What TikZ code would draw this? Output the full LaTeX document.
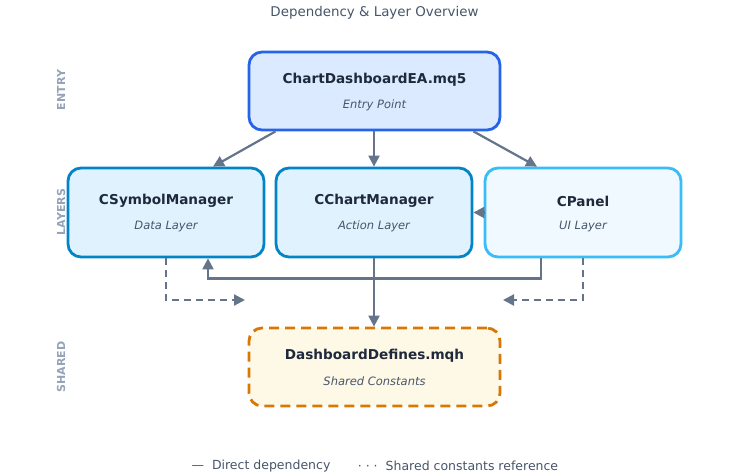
\documentclass[tikz,border=0pt]{standalone}
\usepackage{fontspec}
\setmainfont{DejaVu Sans}
\usetikzlibrary{arrows.meta, calc}

\definecolor{entryline}{HTML}{2563EB}
\definecolor{entryfill}{HTML}{DBEAFE}
\definecolor{layerline}{HTML}{0284C7}
\definecolor{layerfill}{HTML}{E0F2FE}
\definecolor{panelline}{HTML}{38BDF8}
\definecolor{panelfill}{HTML}{F0F9FF}
\definecolor{sharedline}{HTML}{D97706}
\definecolor{sharedfill}{HTML}{FEF9E7}
\definecolor{wirecol}{HTML}{64748B}
\definecolor{sidegray}{HTML}{94A3B8}
\definecolor{nametext}{HTML}{1E293B}
\definecolor{subtext}{HTML}{475569}

\begin{document}
\begin{tikzpicture}[x=1pt, y=-1pt, >={Triangle[length=11pt, width=11pt]},
  box/.style={draw, rounded corners=13pt, line width=2.8pt, align=center, inner sep=0pt},
  entrybox/.style={box, draw=entryline, fill=entryfill, minimum width=251pt, minimum height=78pt},
  layerbox/.style={box, draw=layerline, fill=layerfill, minimum width=196pt, minimum height=89pt},
  panelbox/.style={box, draw=panelline, fill=panelfill, minimum width=196pt, minimum height=89pt},
  sharedbox/.style={box, draw=sharedline, fill=sharedfill, dash pattern=on 10pt off 6pt,
    minimum width=251pt, minimum height=78pt},
  nametxt/.style={font=\fontsize{13.6}{16}\selectfont\bfseries, text=nametext},
  subtxt/.style={font=\fontsize{11.5}{13}\selectfont\itshape, text=subtext},
  sidelabel/.style={rotate=90, font=\fontsize{11}{13}\selectfont\bfseries, text=sidegray},
  plaintxt/.style={font=\fontsize{12.5}{14}\selectfont, text=subtext},
  link/.style={draw=wirecol, line width=2.2pt},
  dlink/.style={link, dash pattern=on 7pt off 5pt}]

\useasboundingbox (0,0) rectangle (749,475);

% =================================================================================
% title and side labels
% =================================================================================
\node[plaintxt, font=\fontsize{13.4}{15}\selectfont] (title) at (374.5,13) {Dependency \& Layer Overview};
\node[sidelabel] (sentry)  at (61,90)  {ENTRY};
\node[sidelabel] (slayers) at (61,212) {LAYERS};
\node[sidelabel] (sshared) at (61,367) {SHARED};

% =================================================================================
% boxes
% =================================================================================
\node[entrybox]  (entry)  at (374.5,91)  {};
\node[layerbox]  (csym)   at (166,212.5) {};
\node[layerbox]  (cchart) at (374,212.5) {};
\node[panelbox]  (cpanel) at (583,212.5) {};
\node[sharedbox] (defs)   at (374.5,367) {};

\node[nametxt] (entryname)  at (374.5,80)  {ChartDashboardEA.mq5};
\node[subtxt]  (entrysub)   at (374.5,105) {Entry Point};
\node[nametxt] (csymname)   at (166,201)   {CSymbolManager};
\node[subtxt]  (csymsub)    at (166,226)   {Data Layer};
\node[nametxt] (cchartname) at (374,201)   {CChartManager};
\node[subtxt]  (cchartsub)  at (374,226)   {Action Layer};
\node[nametxt] (cpanelname) at (583,201)   {CPanel};
\node[subtxt]  (cpanelsub)  at (583,226)   {UI Layer};
\node[nametxt] (defsname)   at (374.5,356) {DashboardDefines.mqh};
\node[subtxt]  (defssub)    at (374.5,381) {Shared Constants};

% =================================================================================
% direct dependencies
% =================================================================================
\draw[link, ->] ([xshift=-99pt]entry.south) -- ([xshift=47pt]csym.north);
\draw[link, ->] (cchart.north |- entry.south) -- (cchart.north);
\draw[link, ->] ([xshift=99pt]entry.south) -- ([xshift=-46pt]cpanel.north);
\draw[link, ->] (cpanel.west) -- (cchart.east);
\draw[link, ->] ([xshift=-42pt]cpanel.south) -- ++(0,20) -| ([xshift=42pt]csym.south);
\draw[link, ->] (cchart.south) -- (cchart.south |- defs.north);

% =================================================================================
% shared constants references
% =================================================================================
\coordinate (dl) at (245,300);
\coordinate (dr) at (503,300);
\draw[dlink, ->] (csym.south) |- (dl);
\draw[dlink, ->] (cpanel.south) |- (dr);

% =================================================================================
% legend
% =================================================================================
\node[plaintxt] (leg1) at (261,466) {— \ Direct dependency};
\node[plaintxt] (leg2) at (458,466) {· · · \ Shared constants reference};

\end{tikzpicture}
\end{document}
